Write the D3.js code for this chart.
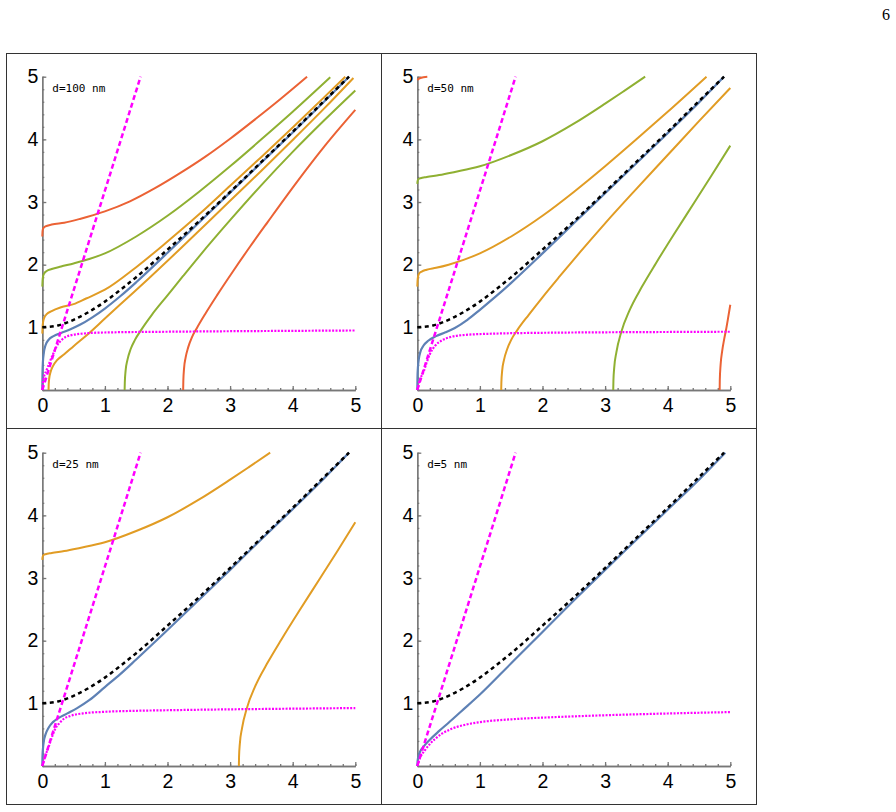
<!DOCTYPE html>
<html>
<head>
<meta charset="utf-8">
<script src="https://cdn.jsdelivr.net/npm/d3@7"></script>
<style>
  body { margin: 0; background: #fff; }
  svg { display: block; }
</style>
</head>
<body>
<svg id="chart" width="896" height="812"></svg>
<script>
// ---- data ----
const xTicks = [0, 1, 2, 3, 4, 5];
const yTicks = [1, 2, 3, 4, 5];
const panelLabels = ["d=100 nm", "d=50 nm", "d=25 nm", "d=5 nm"];
const pageNumber = "6";

// same in every panel
const lightLine = [[0, 0], [0.5, 1.59], [1, 3.18], [1.57, 5]];
const cladLine = [[0, 1], [0.25, 1.03], [0.5, 1.12], [0.75, 1.25], [1, 1.41], [1.25, 1.6],
  [1.5, 1.8], [2, 2.24], [2.5, 2.69], [3, 3.16], [3.5, 3.64], [4, 4.12], [4.5, 4.61], [4.9, 5]];

// surface (blue) branch
const blue100 = [[0, 0], [0.003, 0.25], [0.01, 0.45], [0.025, 0.6], [0.05, 0.71], [0.1, 0.8],
  [0.18, 0.86], [0.3, 0.91], [0.45, 0.97], [0.6, 1.04], [0.8, 1.16], [1, 1.3], [1.25, 1.5],
  [1.5, 1.72], [2, 2.19], [2.5, 2.67], [3, 3.15], [3.5, 3.63], [4, 4.11], [4.5, 4.6], [4.9, 5]];
const blue50 = [[0, 0], [0.003, 0.2], [0.01, 0.36], [0.025, 0.5], [0.05, 0.61], [0.1, 0.71],
  [0.18, 0.79], [0.3, 0.86], [0.45, 0.92], [0.6, 0.99], [0.8, 1.12], [1, 1.28], [1.25, 1.49],
  [1.5, 1.71], [2, 2.18], [2.5, 2.66], [3, 3.14], [3.5, 3.62], [4, 4.1], [4.5, 4.59], [4.9, 5]];
const blue25 = [[0, 0], [0.003, 0.15], [0.01, 0.27], [0.025, 0.4], [0.05, 0.5], [0.1, 0.61],
  [0.17, 0.7], [0.25, 0.76], [0.4, 0.84], [0.55, 0.92], [0.75, 1.05], [1, 1.26], [1.25, 1.47],
  [1.5, 1.7], [2, 2.17], [2.5, 2.65], [3, 3.13], [3.5, 3.62], [4, 4.1], [4.5, 4.59], [4.9, 5]];
const blue5 = [[0, 0], [0.005, 0.08], [0.02, 0.16], [0.05, 0.24], [0.1, 0.31], [0.2, 0.42],
  [0.35, 0.56], [0.5, 0.69], [0.7, 0.87], [1, 1.14], [1.5, 1.64], [2, 2.14], [2.5, 2.64],
  [3, 3.13], [3.5, 3.61], [4, 4.09], [4.5, 4.57], [4.92, 5]];

// magenta dotted branch
const dot100 = [[0, 0], [0.016, 0.16], [0.07, 0.32], [0.12, 0.45], [0.18, 0.59], [0.23, 0.7],
  [0.31, 0.8], [0.44, 0.87], [0.7, 0.905], [1, 0.918], [2, 0.93], [3, 0.938], [4, 0.944], [5, 0.95]];
const dot50 = [[0, 0], [0.04, 0.16], [0.1, 0.29], [0.15, 0.44], [0.2, 0.57], [0.28, 0.7],
  [0.39, 0.79], [0.55, 0.85], [0.75, 0.878], [1.24, 0.9], [2, 0.913], [3, 0.921], [4, 0.926], [5, 0.93]];
const dot25 = [[0, 0], [0.04, 0.14], [0.1, 0.3], [0.15, 0.45], [0.2, 0.58], [0.27, 0.68],
  [0.34, 0.75], [0.45, 0.8], [0.65, 0.84], [1, 0.865], [1.45, 0.88], [2, 0.89], [3.05, 0.905],
  [4, 0.915], [5, 0.925]];
const dot5 = [[0, 0], [0.04, 0.12], [0.12, 0.25], [0.2, 0.35], [0.28, 0.43], [0.4, 0.52],
  [0.54, 0.59], [0.75, 0.655], [1, 0.7], [1.5, 0.745], [2, 0.772], [2.5, 0.792], [3, 0.81],
  [3.5, 0.825], [4, 0.838], [4.5, 0.85], [5, 0.86]];

// guided modes, d = 100 nm
const orangeUp100 = [[0, 0.9], [0.004, 1.0], [0.012, 1.08], [0.03, 1.15], [0.07, 1.21], [0.15, 1.26],
  [0.3, 1.32], [0.5, 1.37], [0.7, 1.46], [1, 1.6], [1.5, 1.96], [2, 2.37], [2.5, 2.8], [3, 3.26],
  [3.5, 3.72], [4, 4.19], [4.5, 4.67], [4.84, 5]];
const orangeLo100 = [[0.1, 0], [0.102, 0.08], [0.11, 0.18], [0.13, 0.28], [0.17, 0.38], [0.24, 0.48],
  [0.35, 0.57], [0.5, 0.7], [0.75, 0.91], [1, 1.14], [1.35, 1.46], [1.7, 1.78], [2.2, 2.25],
  [2.65, 2.68], [3, 3.02], [3.5, 3.5], [4, 3.99], [4.5, 4.49], [4.97, 4.98]];
const greenUp100 = [[0, 1.65], [0.004, 1.74], [0.012, 1.81], [0.03, 1.86], [0.07, 1.9], [0.15, 1.93],
  [0.3, 1.97], [0.5, 2.02], [0.75, 2.09], [1, 2.18], [1.5, 2.45], [2, 2.78], [2.5, 3.16],
  [3, 3.57], [3.5, 4.0], [4, 4.44], [4.6, 4.99]];
const greenLo100 = [[1.315, 0], [1.318, 0.12], [1.33, 0.3], [1.36, 0.48], [1.41, 0.65], [1.48, 0.8],
  [1.58, 0.96], [1.75, 1.2], [2, 1.51], [2.25, 1.82], [2.52, 2.15], [3, 2.71], [3.5, 3.27],
  [4, 3.8], [4.5, 4.3], [5, 4.78]];
const redUp100 = [[0, 2.45], [0.004, 2.53], [0.015, 2.58], [0.05, 2.61], [0.15, 2.64], [0.35, 2.67],
  [0.6, 2.73], [1, 2.85], [1.4, 3.01], [1.8, 3.22], [2.2, 3.46], [2.6, 3.72], [3, 4.01],
  [3.4, 4.32], [3.8, 4.64], [4.23, 5]];
const redLo100 = [[2.25, 0], [2.253, 0.15], [2.265, 0.35], [2.29, 0.52], [2.33, 0.68], [2.39, 0.84],
  [2.47, 0.99], [2.6, 1.21], [2.79, 1.51], [3.05, 1.9], [3.32, 2.29], [3.6, 2.68], [4.06, 3.31],
  [4.5, 3.88], [5, 4.47]];

// guided modes, d = 50 nm
const redUp50 = [[0, 4.95], [0.05, 4.98], [0.16, 5]];
const orangeUp50 = [[0, 1.65], [0.004, 1.74], [0.012, 1.81], [0.03, 1.86], [0.07, 1.89], [0.15, 1.92],
  [0.3, 1.95], [0.5, 2.0], [0.75, 2.08], [1, 2.18], [1.5, 2.45], [2, 2.78], [2.5, 3.16],
  [3, 3.57], [3.5, 4.0], [4, 4.44], [4.62, 5]];
const orangeLo50 = [[1.34, 0], [1.343, 0.12], [1.355, 0.3], [1.385, 0.48], [1.435, 0.65], [1.5, 0.8],
  [1.6, 0.96], [1.78, 1.2], [2, 1.48], [2.28, 1.82], [2.6, 2.2], [3, 2.66], [3.5, 3.21],
  [4, 3.75], [4.5, 4.29], [5, 4.82]];
const greenUp50 = [[0, 3.29], [0.004, 3.33], [0.015, 3.36], [0.05, 3.38], [0.15, 3.4], [0.35, 3.43],
  [0.6, 3.48], [1, 3.57], [1.5, 3.75], [2, 3.97], [2.5, 4.25], [3, 4.57], [3.3, 4.77], [3.64, 5]];
const greenLo50 = [[3.13, 0], [3.133, 0.15], [3.145, 0.35], [3.18, 0.6], [3.26, 0.93], [3.39, 1.27],
  [3.59, 1.65], [3.81, 2.02], [4.09, 2.47], [4.43, 3.0], [4.71, 3.44], [5, 3.9]];
const redLo50 = [[4.83, 0], [4.832, 0.15], [4.845, 0.4], [4.87, 0.62], [4.9, 0.8], [4.93, 0.95],
  [4.965, 1.15], [5, 1.36]];

// guided modes, d = 25 nm
const orangeUp25 = [[0, 3.29], [0.004, 3.33], [0.015, 3.36], [0.05, 3.38], [0.15, 3.4], [0.35, 3.43],
  [0.6, 3.48], [1, 3.57], [1.5, 3.75], [2, 3.97], [2.5, 4.25], [3, 4.57], [3.3, 4.77], [3.64, 5]];
const orangeLo25 = [[3.14, 0], [3.143, 0.15], [3.155, 0.35], [3.19, 0.6], [3.27, 0.93], [3.4, 1.27],
  [3.6, 1.65], [3.82, 2.02], [4.1, 2.47], [4.44, 3.0], [4.72, 3.44], [5, 3.89]];

// ---- drawing ----
const svg = d3.select("#chart");
const colors = { blue: "#5E81B5", orange: "#E19C24", green: "#8FB032", red: "#EB6235", magenta: "#FF00FF" };

const panels = [
  { label: panelLabels[0], blue: blue100, dot: dot100,
    modes: [[redUp100, "red"], [redLo100, "red"], [greenUp100, "green"], [greenLo100, "green"],
            [orangeUp100, "orange"], [orangeLo100, "orange"]] },
  { label: panelLabels[1], blue: blue50, dot: dot50,
    modes: [[redUp50, "red"], [redLo50, "red"], [greenUp50, "green"], [greenLo50, "green"],
            [orangeUp50, "orange"], [orangeLo50, "orange"]] },
  { label: panelLabels[2], blue: blue25, dot: dot25,
    modes: [[orangeUp25, "orange"], [orangeLo25, "orange"]] },
  { label: panelLabels[3], blue: blue5, dot: dot5, modes: [] }
];

const colLeft = [42.3, 417.3];
const rowTop = [76.7, 452.7];
const plotW = 313, plotH = 313.3;

// frame around the grid
svg.append("rect")
  .attr("x", 6.5).attr("y", 53.5).attr("width", 750).attr("height", 751)
  .attr("fill", "none").attr("stroke", "#333").attr("stroke-width", 1);
svg.append("line").attr("x1", 381.5).attr("x2", 381.5).attr("y1", 53.5).attr("y2", 804.5)
  .attr("stroke", "#333").attr("stroke-width", 1);
svg.append("line").attr("x1", 6.5).attr("x2", 756.5).attr("y1", 428.5).attr("y2", 428.5)
  .attr("stroke", "#333").attr("stroke-width", 1);

svg.append("text")
  .attr("x", 890).attr("y", 20)
  .attr("text-anchor", "end")
  .attr("font-family", "Liberation Serif, DejaVu Serif, serif")
  .attr("font-size", 16)
  .text(pageNumber);

const minorTicks = d3.range(0, 5.001, 0.2).map((d) => +d.toFixed(1));

panels.forEach((p, i) => {
  const left = colLeft[i % 2];
  const top = rowTop[Math.floor(i / 2)];
  const x = d3.scaleLinear().domain([0, 5]).range([left, left + plotW]);
  const y = d3.scaleLinear().domain([0, 5]).range([top + plotH, top]);

  const g = svg.append("g");

  const clipId = "clip" + i;
  svg.append("clipPath").attr("id", clipId)
    .append("rect")
    .attr("x", left - 2).attr("y", top - 2)
    .attr("width", plotW + 4).attr("height", plotH + 4);

  // axes: ticks point into the plot
  const xMinor = g.append("g").attr("transform", `translate(0,${y(0)})`)
    .call(d3.axisBottom(x).tickValues(minorTicks).tickSize(-2).tickSizeOuter(0).tickFormat(""));
  const xMajor = g.append("g").attr("transform", `translate(0,${y(0)})`)
    .call(d3.axisBottom(x).tickValues(xTicks).tickSize(-4).tickSizeOuter(0)
      .tickPadding(8).tickFormat(d3.format("d")));
  const yMinor = g.append("g").attr("transform", `translate(${x(0)},0)`)
    .call(d3.axisLeft(y).tickValues(minorTicks).tickSize(-2).tickSizeOuter(0).tickFormat(""));
  const yMajor = g.append("g").attr("transform", `translate(${x(0)},0)`)
    .call(d3.axisLeft(y).tickValues(yTicks).tickSize(-4).tickSizeOuter(0)
      .tickPadding(4).tickFormat(d3.format("d")));

  [xMinor, xMajor, yMinor, yMajor].forEach((a) => {
    a.selectAll("path, line").attr("stroke", "#777").attr("stroke-width", 1.3);
    a.selectAll("text")
      .attr("fill", "#000")
      .attr("font-family", "Liberation Sans, Arial, sans-serif")
      .attr("font-size", 19.5);
  });

  const line = d3.line()
    .x((d) => x(d[0]))
    .y((d) => y(d[1]))
    .curve(d3.curveMonotoneX);

  const curves = g.append("g").attr("clip-path", `url(#${clipId})`);

  p.modes.forEach(([pts, c]) => {
    curves.append("path")
      .attr("d", line(pts))
      .attr("fill", "none")
      .attr("stroke", colors[c])
      .attr("stroke-width", 2);
  });

  curves.append("path")
    .attr("d", line(p.blue))
    .attr("fill", "none")
    .attr("stroke", colors.blue)
    .attr("stroke-width", 2.2);

  curves.append("path")
    .attr("d", line(cladLine))
    .attr("fill", "none")
    .attr("stroke", "#000")
    .attr("stroke-width", 2.5)
    .attr("stroke-dasharray", "4,3.5");

  curves.append("path")
    .attr("d", line(p.dot))
    .attr("fill", "none")
    .attr("stroke", colors.magenta)
    .attr("stroke-width", 2.2)
    .attr("stroke-dasharray", "2,1.4");

  curves.append("path")
    .attr("d", line(lightLine))
    .attr("fill", "none")
    .attr("stroke", colors.magenta)
    .attr("stroke-width", 2.5)
    .attr("stroke-dasharray", "5,3");

  g.append("text")
    .attr("x", left + 10)
    .attr("y", top + 15)
    .attr("font-family", "DejaVu Sans Mono, monospace")
    .attr("font-size", 11)
    .text(p.label);
});
</script>
</body>
</html>
